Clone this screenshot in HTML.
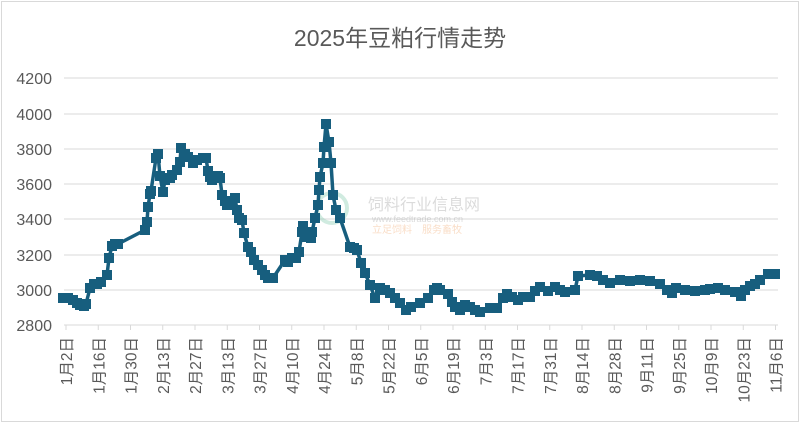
<!DOCTYPE html>
<html><head><meta charset="utf-8"><style>
body{margin:0;background:#fff}
svg text{font-family:"Liberation Sans","Noto Sans CJK SC",sans-serif;fill:#595959}
</style></head><body>
<svg width="800" height="423" viewBox="0 0 800 423" xmlns="http://www.w3.org/2000/svg">
<rect x="1.5" y="1.5" width="797" height="420" fill="#fff" stroke="#d9d9d9"/>
<text x="400" y="46" font-size="23" text-anchor="middle">2025年豆粕行情走势</text>
<g stroke="#d9d9d9" stroke-width="1">
<line x1="64" x2="778" y1="78" y2="78"/><line x1="64" x2="778" y1="114" y2="114"/>
<line x1="64" x2="778" y1="149" y2="149"/><line x1="64" x2="778" y1="184" y2="184"/>
<line x1="64" x2="778" y1="219" y2="219"/><line x1="64" x2="778" y1="255" y2="255"/>
<line x1="64" x2="778" y1="290" y2="290"/><line x1="64" x2="778" y1="325" y2="325"/>
</g>
<g font-size="16" text-anchor="end">
<text x="52" y="84">4200</text><text x="52" y="120">4000</text><text x="52" y="155">3800</text>
<text x="52" y="190">3600</text><text x="52" y="225">3400</text><text x="52" y="261">3200</text>
<text x="52" y="296">3000</text><text x="52" y="331">2800</text>
</g>
<g id="ticks" stroke="#d9d9d9"></g>
<g id="labels" font-size="15.5" text-anchor="end"></g>
<g opacity="0.35">
<circle cx="332" cy="208" r="15" fill="none" stroke="#7cc7a8" stroke-width="4"/>
<text x="368" y="210" font-size="16" style="fill:#999">饲料行业信息网</text>
<text x="372" y="222" font-size="9" style="fill:#999">www.feedtrade.com.cn</text>
<text x="372" y="233" font-size="10" style="fill:#f0a060">立足饲料　服务畜牧</text>
</g>
<g id="series"></g>
</svg>
<script>
const dates=["1月2日","1月16日","1月30日","2月13日","2月27日","3月13日","3月27日","4月10日","4月24日","5月8日","5月22日","6月5日","6月19日","7月3日","7月17日","7月31日","8月14日","8月28日","9月11日","9月25日","10月9日","10月23日","11月6日"];
const NS="http://www.w3.org/2000/svg";
const t=document.getElementById('ticks'),l=document.getElementById('labels');
dates.forEach((d,i)=>{const x=66+i*32.25;
const ln=document.createElementNS(NS,'line');ln.setAttribute('x1',x);ln.setAttribute('x2',x);ln.setAttribute('y1',325);ln.setAttribute('y2',330);t.appendChild(ln);
const tx=document.createElementNS(NS,'text');tx.setAttribute('transform',`translate(${x+6},337) rotate(-90)`);tx.textContent=d;l.appendChild(tx);});
const pts=[[63,298],[68,298],[73,300],[77,303],[80,305],[84,306],[86,304],[90,288],[94,284],[97,284],[101,282],[107,275],[109,258],[112,246],[115,244],[118,244],[145,230],[147,222],[148,207],[150,194],[151,191],[156,158],[158,154],[160,176],[163,192],[165,180],[170,178],[172,175],[177,170],[180,162],[181,148],[185,154],[188,157],[193,163],[197,160],[203,158],[206,158],[208,171],[210,177],[212,180],[218,176],[220,178],[222,195],[225,201],[227,205],[232,205],[235,198],[237,210],[239,218],[242,220],[244,233],[248,247],[251,252],[254,260],[258,265],[262,270],[265,275],[268,278],[273,278],[285,260],[288,262],[292,258],[296,258],[299,252],[302,232],[303,226],[306,237],[311,238],[312,232],[315,218],[318,205],[319,190],[320,177],[323,163],[324,147],[326,124],[329,142],[331,163],[333,195],[336,210],[340,218],[350,247],[354,248],[357,250],[361,263],[365,273],[370,285],[375,298],[380,288],[385,290],[390,293],[395,298],[400,303],[406,310],[411,307],[420,303],[428,298],[434,290],[437,288],[440,290],[448,294],[452,302],[455,307],[460,310],[465,305],[470,307],[475,310],[480,312],[490,308],[497,308],[503,298],[507,294],[512,297],[518,300],[523,297],[530,297],[535,291],[540,287],[548,291],[555,287],[560,290],[565,292],[575,290],[578,276],[590,275],[597,276],[603,280],[610,283],[620,280],[630,281],[640,280],[650,281],[660,284],[667,290],[672,293],[676,288],[685,290],[695,291],[705,290],[710,289],[718,288],[725,290],[735,292],[741,296],[745,290],[750,286],[755,284],[760,280],[768,274],[775,274]];
const s=document.getElementById('series');
const pl=document.createElementNS(NS,'polyline');pl.setAttribute('points',pts.map(p=>p.join(',')).join(' '));
pl.setAttribute('fill','none');pl.setAttribute('stroke','#175e7e');pl.setAttribute('stroke-width','3.5');pl.setAttribute('stroke-linejoin','round');s.appendChild(pl);
pts.forEach(p=>{const r=document.createElementNS(NS,'rect');r.setAttribute('x',p[0]-5);r.setAttribute('y',p[1]-5);r.setAttribute('width',10);r.setAttribute('height',10);r.setAttribute('fill','#175e7e');s.appendChild(r);});
</script>
</body></html>
